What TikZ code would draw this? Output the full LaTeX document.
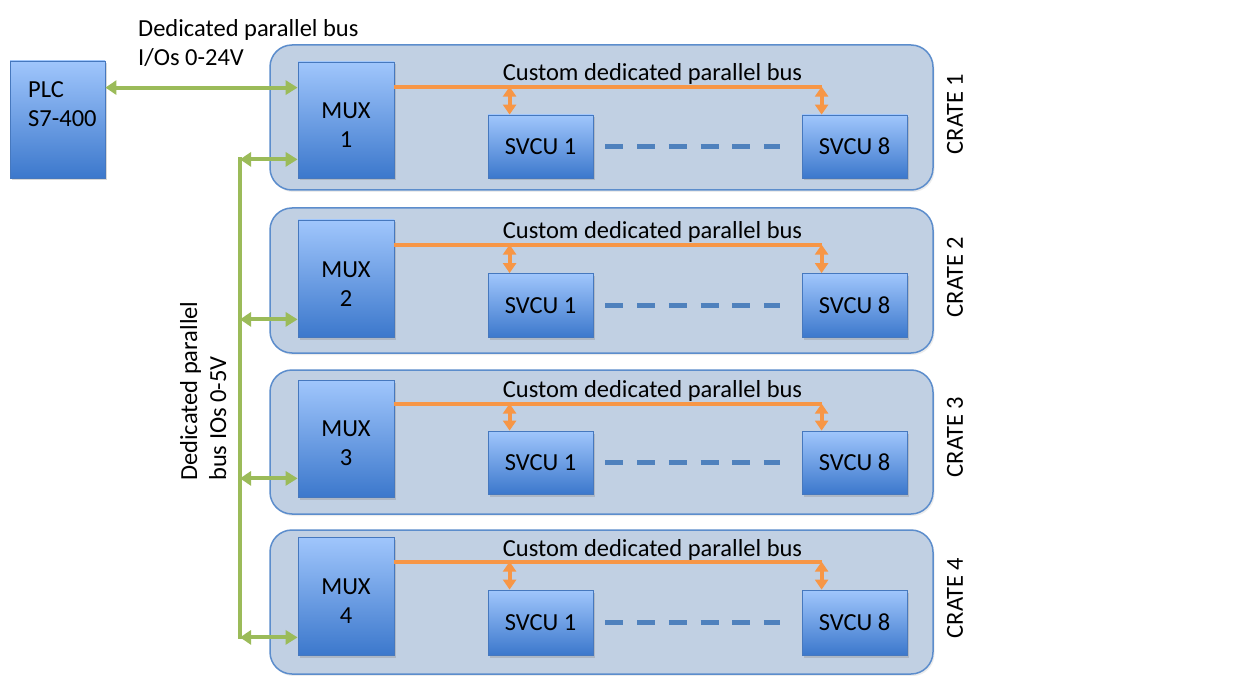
\documentclass[tikz,border=0pt]{standalone}
\usepackage{fontspec}
\setmainfont{Carlito}
\usepackage{tikz}
\usetikzlibrary{arrows.meta,shadows}

\definecolor{cratefill}{RGB}{193,208,227}
\definecolor{crateline}{RGB}{92,141,204}
\definecolor{boxtop}{RGB}{160,198,252}
\definecolor{boxbot}{RGB}{60,120,204}
\definecolor{boxline}{RGB}{70,120,190}
\definecolor{busgreen}{RGB}{155,187,89}
\definecolor{busorange}{RGB}{247,150,70}
\definecolor{dotblue}{RGB}{79,129,189}

\begin{document}
\begin{tikzpicture}[x=1pt, y=-1pt,
	every node/.style={font=\fontsize{24.5}{29}\selectfont},
	crate/.style={draw=crateline, line width=1.5pt, fill=cratefill, rounded corners=22pt,
		minimum width=663pt, inner sep=0pt, drop shadow={shadow xshift=1.5pt, shadow yshift=-2pt, opacity=0.15}},
	unit/.style={draw=boxline, line width=0.8pt, top color=boxtop, bottom color=boxbot, align=center,
		inner sep=0pt, drop shadow={shadow xshift=2pt, shadow yshift=-2.5pt, opacity=0.3}},
	mux/.style={unit, minimum width=96pt, text height=55pt},
	gbus/.style={busgreen, line width=4pt, {Triangle[length=11pt,width=14pt]}-{Triangle[length=12pt,width=14pt]}},
	obus/.style={busorange, line width=4pt},
	otap/.style={busorange, line width=4pt, {Triangle[length=10pt,width=13pt]}-{Triangle[length=10pt,width=13pt]}},
	dots/.style={dotblue, line width=5.5pt, dash pattern=on 18pt off 13.7pt}]
	\path[use as bounding box, fill=white] (0,0) rectangle (1257,676);

	\node[unit, minimum width=95pt, minimum height=117pt] (plc) at (57.5,119.5) {};
	\node[anchor=north west, align=left, inner sep=0pt] (plclbl) at (28,81) {PLC\\S7-400};
	\node[anchor=north west, align=left, inner sep=0pt] (toplbl) at (138,19) {Dedicated parallel bus\\I/Os 0-24V};
	\node[rotate=90, anchor=north west, align=left, inner sep=0pt] (vlbl) at (180,481) {Dedicated parallel\\bus IOs 0-5V};

	\node[crate, minimum height=145pt] (crate1) at (601.5,117.5) {};
	\node[mux, minimum height=116pt] (mux1) at (346,120) {MUX\\1};
	\node[unit, minimum width=105pt, minimum height=63pt] (s11) at (540.5,146.5) {SVCU 1};
	\node[unit, minimum width=105pt, minimum height=63pt] (s18) at (854.5,146.5) {SVCU 8};
	\node[anchor=base] (cb1) at (652.5,81) {Custom dedicated parallel bus};
	\node[rotate=90] (cl1) at (955,114) {CRATE 1};

	\node[crate, minimum height=145pt] (crate2) at (601.5,280.5) {};
	\node[mux, minimum height=117pt] (mux2) at (346,278.5) {MUX\\2};
	\node[unit, minimum width=105pt, minimum height=64pt] (s21) at (540.5,305.5) {SVCU 1};
	\node[unit, minimum width=105pt, minimum height=64pt] (s28) at (854.5,305.5) {SVCU 8};
	\node[anchor=base] (cb2) at (652.5,239) {Custom dedicated parallel bus};
	\node[rotate=90] (cl2) at (955,277) {CRATE 2};

	\node[crate, minimum height=144pt] (crate3) at (601.5,442) {};
	\node[mux, minimum height=117pt] (mux3) at (346,438.5) {MUX\\3};
	\node[unit, minimum width=105pt, minimum height=63pt] (s31) at (540.5,462.5) {SVCU 1};
	\node[unit, minimum width=105pt, minimum height=63pt] (s38) at (854.5,462.5) {SVCU 8};
	\node[anchor=base] (cb3) at (652.5,397) {Custom dedicated parallel bus};
	\node[rotate=90] (cl3) at (955,437) {CRATE 3};

	\node[crate, minimum height=144pt] (crate4) at (601.5,602) {};
	\node[mux, minimum height=118pt] (mux4) at (346,596) {MUX\\4};
	\node[unit, minimum width=105pt, minimum height=65pt] (s41) at (540.5,622.5) {SVCU 1};
	\node[unit, minimum width=105pt, minimum height=65pt] (s48) at (854.5,622.5) {SVCU 8};
	\node[anchor=base] (cb4) at (652.5,556) {Custom dedicated parallel bus};
	\node[rotate=90] (cl4) at (955,598) {CRATE 4};

	\coordinate (p) at ([yshift=-27pt]plc.north east);
	\draw[gbus] (p) -- (p -| mux1.west);

	\coordinate (vb) at (240,0);
	\coordinate (g1) at ([yshift=19pt]mux1.south west);
	\coordinate (g2) at ([yshift=18pt]mux2.south west);
	\coordinate (g3) at ([yshift=19pt]mux3.south west);
	\coordinate (g4) at ([yshift=18pt]mux4.south west);
	\draw[busgreen, line width=4pt, line cap=rect] (g1 -| vb) -- (g4 -| vb);
	\draw[gbus] (g1 -| vb) -- (g1);
	\draw[gbus] (g2 -| vb) -- (g2);
	\draw[gbus] (g3 -| vb) -- (g3);
	\draw[gbus] (g4 -| vb) -- (g4);

	\coordinate (m1) at ([yshift=-25pt]mux1.north east);
	\coordinate (a1) at ([xshift=22pt]s11.north west);
	\coordinate (b1) at ([xshift=20pt]s18.north west);
	\draw[obus] (m1) -- (m1 -| b1);
	\draw[otap] (m1 -| a1) -- (a1);
	\draw[otap] (m1 -| b1) -- (b1);
	\draw[dots] ([xshift=12pt]s11.east) -- ([xshift=-22pt]s18.west);

	\coordinate (m2) at ([yshift=-25pt]mux2.north east);
	\coordinate (a2) at ([xshift=22pt]s21.north west);
	\coordinate (b2) at ([xshift=20pt]s28.north west);
	\draw[obus] (m2) -- (m2 -| b2);
	\draw[otap] (m2 -| a2) -- (a2);
	\draw[otap] (m2 -| b2) -- (b2);
	\draw[dots] ([xshift=12pt]s21.east) -- ([xshift=-22pt]s28.west);

	\coordinate (m3) at ([yshift=-24pt]mux3.north east);
	\coordinate (a3) at ([xshift=22pt]s31.north west);
	\coordinate (b3) at ([xshift=20pt]s38.north west);
	\draw[obus] (m3) -- (m3 -| b3);
	\draw[otap] (m3 -| a3) -- (a3);
	\draw[otap] (m3 -| b3) -- (b3);
	\draw[dots] ([xshift=12pt]s31.east) -- ([xshift=-22pt]s38.west);

	\coordinate (m4) at ([yshift=-25pt]mux4.north east);
	\coordinate (a4) at ([xshift=22pt]s41.north west);
	\coordinate (b4) at ([xshift=20pt]s48.north west);
	\draw[obus] (m4) -- (m4 -| b4);
	\draw[otap] (m4 -| a4) -- (a4);
	\draw[otap] (m4 -| b4) -- (b4);
	\draw[dots] ([xshift=12pt]s41.east) -- ([xshift=-22pt]s48.west);
\end{tikzpicture}
\end{document}
